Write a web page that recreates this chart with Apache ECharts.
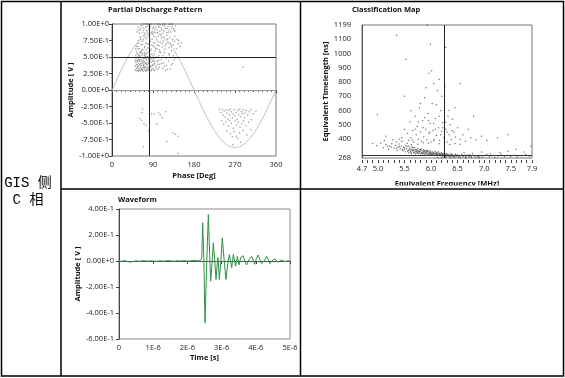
<!DOCTYPE html>
<html><head><meta charset="utf-8">
<script src="https://cdn.jsdelivr.net/npm/echarts@6/dist/echarts.min.js"></script>
<style>html,body{margin:0;padding:0;background:#fff}#c{width:565px;height:378px}</style>
</head><body><div id="c"></div>
<script>
// ---------- Partial Discharge Pattern ----------
const pdTitle = 'Partial Discharge Pattern';
const pdPoints = [
[50,0.31],[51,0.36],[52,0.42],[53,0.29],[53,0.48],[54,0.33],[55,0.39],[55,0.55],[56,0.30],[56,0.44],[57,0.36],[57,0.51],[58,0.28],[58,0.41],[59,0.33],[59,0.47],[60,0.38],[60,0.56],[61,0.30],[61,0.43],[62,0.35],[62,0.50],[63,0.29],[63,0.40],[64,0.46],[64,0.58],[65,0.32],[65,0.37],[66,0.44],[66,0.53],[67,0.30],[67,0.41],[68,0.35],[68,0.49],[69,0.28],[69,0.45],[70,0.33],[70,0.39],[71,0.52],[71,0.57],[72,0.31],[72,0.43],[73,0.36],[73,0.48],[74,0.29],[74,0.40],[75,0.34],[75,0.55],[76,0.46],[77,0.31],[77,0.38],[78,0.50],[79,0.29],[79,0.42],[80,0.35],[80,0.47],[81,0.32],[81,0.58],[82,0.39],[83,0.44],[83,0.30],[84,0.51],[85,0.36],[86,0.42],[87,0.31],[88,0.48],[89,0.38],[90,0.33],[91,0.45],[92,0.55],[93,0.40],[94,0.30],[95,0.49],[97,0.36],[99,0.43],[101,0.31],[103,0.52],[105,0.39],[108,0.46],[111,0.33],[114,0.41],[117,0.30],[120,0.37],[124,0.44],[128,0.32],[133,0.40],
[51,0.45],[52,0.52],[53,0.38],[54,0.58],[55,0.44],[56,0.35],[57,0.46],[58,0.53],[59,0.30],[60,0.45],[61,0.52],[62,0.39],[63,0.57],[64,0.33],[65,0.49],[66,0.31],[67,0.55],[68,0.42],[69,0.37],[70,0.48],[71,0.34],[72,0.54],[73,0.41],[74,0.51],[75,0.29],[76,0.39],[77,0.56],[78,0.33],[79,0.50],[80,0.40],[81,0.45],[82,0.31],[83,0.53],[84,0.35],[85,0.47],[86,0.29],[87,0.54],[88,0.37],[89,0.44],[90,0.52],[91,0.30],[92,0.38],[93,0.48],[94,0.43],[96,0.33],[98,0.50],[100,0.39],[102,0.45],[104,0.34],[106,0.57],[109,0.40],[112,0.52],[115,0.36],[119,0.48],[122,0.31],[126,0.53],[130,0.38],[136,0.45],
[52,0.62],[54,0.70],[56,0.66],[58,0.75],[60,0.63],[62,0.80],[64,0.68],[66,0.74],[68,0.61],[70,0.83],[72,0.66],[74,0.71],[76,0.78],[78,0.64],[80,0.69],[82,0.84],[84,0.73],[86,0.62],[88,0.77],[90,0.67],[92,0.81],[94,0.70],[96,0.63],[98,0.76],[100,0.68],[102,0.82],[104,0.61],[106,0.72],[108,0.79],[110,0.65],[113,0.74],[116,0.62],[119,0.70],[122,0.77],[125,0.64],[128,0.71],[131,0.60],[134,0.68],[137,0.74],[141,0.63],[145,0.70],[149,0.66],[65,0.60],[75,0.61],[85,0.60],[95,0.59],[105,0.58],[115,0.57],[125,0.55],[135,0.52],[140,0.48],
[53,0.66],[57,0.62],[59,0.71],[63,0.77],[67,0.69],[69,0.76],[71,0.64],[73,0.80],[77,0.70],[79,0.82],[81,0.63],[83,0.76],[87,0.68],[89,0.84],[91,0.72],[93,0.65],[97,0.80],[99,0.62],[101,0.73],[103,0.67],[107,0.84],[111,0.70],[114,0.80],[117,0.67],[120,0.83],[123,0.72],[127,0.79],[130,0.67],[133,0.76],[138,0.82],[143,0.77],
[55,0.88],[58,0.95],[61,0.91],[64,0.98],[67,0.87],[70,0.94],[73,1.0],[76,0.90],[79,0.97],[82,0.93],[85,1.0],[88,0.89],[91,0.96],[94,0.92],[97,1.0],[100,0.87],[103,0.95],[106,0.99],[109,0.91],[112,0.86],[115,0.97],[118,1.0],[121,0.93],[124,0.88],[127,0.99],[130,0.94],[133,1.0],[136,0.90],[139,0.97],[68,1.0],[80,1.0],[92,1.0],[104,1.0],[112,1.0],[125,1.0],
[57,0.91],[60,0.86],[63,0.93],[66,0.97],[69,0.90],[72,0.86],[75,0.96],[78,0.88],[81,0.92],[84,0.96],[87,0.86],[90,0.93],[93,0.88],[96,0.95],[99,0.91],[102,0.97],[105,0.89],[108,0.94],[111,0.98],[114,0.90],[117,0.93],[120,0.87],[123,0.96],[126,0.91],[129,0.88],[132,0.97],[135,0.93],[138,0.89],[76,1.0],[86,1.0],[100,1.0],[116,1.0],[130,1.0],
[146,0.75],[152,0.72],[288,0.35],
[67,-0.29],[66,-0.345],[61,-0.43],[65,-0.46],[70,-0.51],[75,-0.53],[87,-0.36],[93,-0.365],[102,-0.345],[106,-0.38],[98,-0.51],[134,-0.65],[139,-0.67],[145,-0.70],[69,-0.86],[145,-0.96],[118,-0.33],[110,-0.42],[120,-0.78],[80,-0.62],
[236,-0.30],[239,-0.34],[242,-0.29],[244,-0.38],[246,-0.32],[248,-0.41],[250,-0.30],[252,-0.35],[254,-0.44],[256,-0.31],[258,-0.38],[260,-0.29],[262,-0.33],[264,-0.42],[266,-0.36],[268,-0.30],[270,-0.39],[272,-0.34],[274,-0.45],[276,-0.31],[278,-0.37],[280,-0.29],[282,-0.40],[284,-0.33],[286,-0.36],[288,-0.30],[290,-0.42],[292,-0.35],[295,-0.31],[298,-0.38],[301,-0.33],[305,-0.30],[310,-0.36],[316,-0.32],
[240,-0.47],[245,-0.52],[250,-0.48],[255,-0.55],[258,-0.46],[262,-0.50],[266,-0.58],[270,-0.47],[273,-0.53],[277,-0.49],[281,-0.56],[285,-0.51],[289,-0.47],[294,-0.54],[300,-0.49],[306,-0.45],
[252,-0.62],[260,-0.66],[268,-0.63],[272,-0.70],[280,-0.65],[288,-0.61],[296,-0.68],[276,-0.73],[264,-0.71],[305,-0.60],[282,-0.79],[265,-0.83]
];
// reference sine (phase, amplitude)
const pdSinePhase = [0,10,20,30,40,50,60,70,80,90,100,110,120,130,140,150,160,170,180,190,200,210,220,230,240,250,260,270,280,290,300,310,320,330,340,350,360];
const pdSineAmp = [0,0.151,0.298,0.435,0.559,0.666,0.753,0.818,0.857,0.87,0.857,0.818,0.753,0.666,0.559,0.435,0.298,0.151,0,-0.151,-0.298,-0.435,-0.559,-0.666,-0.753,-0.818,-0.857,-0.87,-0.857,-0.818,-0.753,-0.666,-0.559,-0.435,-0.298,-0.151,0];
const pdCrossPhase = 81, pdCrossAmp = 0.5;

// ---------- Classification Map ----------
const cmTitle = 'Classification Map';
const cmPoints = [
[4.98,355],[5.05,372],[5.10,340],[5.15,362],[5.20,330],[5.22,351],[5.26,368],[5.30,338],[5.33,355],[5.36,322],[5.38,345],[5.40,366],[5.42,333],[5.44,350],[5.47,318],[5.48,341],[5.50,328],[5.52,356],[5.12,390],[5.28,395],[5.45,385],
[5.52,312],[5.54,333],[5.55,348],[5.57,320],[5.58,305],[5.60,338],[5.61,315],[5.62,326],[5.63,300],[5.64,344],[5.65,318],[5.66,330],[5.67,308],[5.68,322],[5.69,340],[5.70,312],[5.71,298],[5.72,327],[5.73,316],[5.74,305],[5.75,335],[5.76,320],[5.77,310],[5.78,302],[5.79,325],[5.80,315],[5.81,296],[5.82,330],[5.83,308],[5.84,318],[5.85,300],[5.86,324],[5.87,312],[5.88,295],[5.89,305],[5.90,320],[5.91,310],[5.92,298],[5.93,315],[5.94,303],[5.95,292],[5.96,312],[5.97,300],[5.98,318],[5.99,295],[6.00,307],
[5.56,315],[5.59,330],[5.62,307],[5.64,322],[5.66,341],[5.68,303],[5.70,326],[5.72,310],[5.74,318],[5.76,300],[5.78,314],[5.80,327],[5.82,305],[5.84,298],[5.86,310],[5.88,318],[5.90,300],[5.92,313],[5.94,322],[5.96,296],[5.98,306],[6.00,298],[6.02,292],[6.04,303],[6.06,287],[6.08,298],[6.10,305],[6.12,293],[6.14,285],[6.16,296],[6.18,288],[6.20,300],[6.22,291],[6.24,284],[6.26,288],[6.28,282],[6.30,294],[6.33,287],[6.36,281],[6.38,290],[6.41,284],[6.43,280],[6.47,288],[6.49,283],[6.53,281],[6.57,287],[6.61,283],[6.65,280],[6.69,288],[6.72,279],[6.82,282],[6.90,277],[5.35,336],[5.40,349],[5.46,328],[5.50,340],[5.25,345],[5.18,352],[5.58,352],[5.63,360],
[6.01,290],[6.02,312],[6.03,300],[6.04,288],[6.05,305],[6.06,296],[6.07,315],[6.08,285],[6.09,302],[6.10,293],[6.11,308],[6.12,287],[6.13,298],[6.14,310],[6.15,290],[6.16,300],[6.17,283],[6.18,295],[6.19,305],[6.20,288],[6.21,297],[6.22,280],[6.23,292],[6.24,302],[6.25,286],[6.26,295],[6.27,278],[6.28,290],[6.29,300],[6.30,284],[6.32,293],[6.34,279],[6.35,288],[6.37,298],[6.39,282],[6.40,291],[6.42,276],[6.44,286],[6.46,295],[6.48,280],[6.50,289],
[6.52,275],[6.55,284],[6.58,292],[6.60,278],[6.63,287],[6.66,273],[6.70,282],[6.73,290],[6.76,276],[6.80,285],[6.84,272],[6.88,280],[6.92,288],[6.96,275],[7.00,283],[7.05,292],[7.10,278],[7.15,286],[7.20,274],[7.26,282],[7.32,290],[7.38,277],[7.44,285],[7.50,279],[7.56,288],[7.62,276],[7.70,284],[7.78,292],[7.85,281],[6.62,305],[6.78,300],[6.95,310],[7.12,298],[7.30,305],[7.45,315],[7.60,330],[7.75,310],
[6.12,274],[6.20,270],[6.28,272],[6.36,269],[6.45,273],[6.55,270],[6.65,268],[6.75,271],[6.90,269],
[5.45,410],[5.50,470],[5.55,440],[5.58,390],[5.60,520],[5.62,410],[5.65,460],[5.67,380],[5.70,560],[5.72,430],[5.74,490],[5.76,400],[5.78,620],[5.80,450],[5.82,385],[5.84,530],[5.86,415],[5.88,690],[5.90,470],[5.92,395],[5.94,580],[5.96,440],[5.98,510],[6.00,380],[6.02,650],[6.04,460],[6.06,400],[6.08,545],[6.10,425],[6.12,740],[6.14,480],[6.16,390],[6.18,600],[6.20,455],[6.22,515],[6.24,410],[6.26,770],[6.28,470],[6.30,380],[6.32,560],[6.34,430],[6.36,500],[6.38,395],[6.40,540],[6.43,450],[6.46,415],[6.50,480],[6.55,400],[6.60,430],[6.65,385],[6.70,470],[6.75,410],[6.80,560],[6.85,395],[6.95,420],[7.05,390],[7.25,410],[7.45,430],[7.88,350],
[5.70,470],[5.85,480],[5.95,530],[6.05,510],[6.15,560],[6.25,600],[6.30,450],[6.22,480],[6.10,640],[5.98,450],[5.88,550],[6.18,430],[6.28,520],[6.34,600],[6.08,470],[5.76,520],[6.40,460],
[5.35,380],[5.40,400],[5.55,370],[5.75,365],[5.95,372],[6.15,368],[6.35,362],[6.55,365],[5.65,395],[5.85,375],[6.05,388],[6.25,377],[6.45,370],
[5.35,1127],[5.53,960],[5.99,1065],[6.27,1042],[6.01,878],[5.96,860],[4.99,570],[5.93,1199],[5.50,700],[6.05,790],[6.15,820],[5.80,650],[6.55,790],[6.20,700],[5.90,760],[6.45,620],[5.62,600],[5.15,420],[4.90,370]
];
const cmXLabels = [4.7, 5.0, 5.5, 6.0, 6.5, 7.0, 7.5, 7.9];
const cmYLabels = [268, 400, 500, 600, 700, 800, 900, 1000, 1100, 1199];
const cmCrossFreq = 6.25, cmCrossTl = 290;

// ---------- Waveform ----------
const wfTitle = 'Waveform';
const waveform = [
[0,0.002],[0.08,-0.003],[0.16,0.004],[0.25,-0.005],[0.33,-0.008],[0.42,-0.004],[0.5,0.002],[0.58,-0.003],[0.67,0.001],[0.75,0.003],[0.84,-0.002],[0.92,0.002],[1.0,0.0],[1.1,-0.003],[1.2,0.002],[1.3,-0.002],[1.4,0.003],[1.5,0.001],[1.6,-0.002],[1.7,0.002],[1.8,0.0],[1.9,0.003],[2.0,-0.001],[2.1,0.002],[2.2,0.004],[2.3,0.001],[2.38,0.003],
[2.42,0.02],[2.447,0.294],[2.48,0.02],[2.515,-0.475],[2.56,-0.05],[2.612,0.358],[2.65,0.05],[2.68,-0.155],[2.72,-0.02],[2.758,0.14],[2.80,0.0],[2.836,-0.142],[2.87,-0.03],[2.895,0.025],[2.934,-0.142],[2.98,0.0],[3.02,0.178],[3.07,0.02],[3.129,-0.142],[3.18,-0.02],[3.226,0.05],[3.294,-0.052],[3.343,0.05],[3.41,-0.04],[3.46,0.035],[3.51,-0.03],[3.56,0.028],[3.63,0.04],[3.68,0.0],[3.73,-0.03],[3.80,0.01],[3.88,0.035],[3.93,0.0],[3.97,-0.025],[4.02,0.02],[4.07,0.046],[4.12,0.01],[4.17,-0.02],[4.24,0.0],[4.32,0.035],[4.37,0.01],[4.41,-0.02],[4.48,0.005],[4.56,0.015],[4.61,0.0],[4.66,-0.01],[4.72,0.005],[4.79,0.005],[4.85,-0.005],[4.90,0.0],[4.95,0.003],[5.0,0.0]
];

// ---------- row header ----------
const rowHeader = ['GIS 侧', 'C 相'];

const F = "'Open Sans','Liberation Sans',sans-serif";
const lab = {fontFamily: F, fontSize: 7.5, color: '#222'};
const nm = {fontFamily: F, fontSize: 7.5, fontWeight: 'bold', color: '#111'};
const expFmt = v => Number(v).toExponential(2).toUpperCase();

const cmXTicks = [];
for (let i = 47; i <= 79; i++) cmXTicks.push(i / 10);

const chart = echarts.init(document.getElementById('c'), null, {renderer: 'canvas'});
chart.setOption({
  animation: false,
  backgroundColor: '#fff',
  title: [
    {text: pdTitle, left: 108, top: 6, padding: 0, textStyle: {fontFamily: F, fontSize: 7.5, fontWeight: 'bold', color: '#111'}},
    {text: cmTitle, left: 352, top: 6, padding: 0, textStyle: {fontFamily: F, fontSize: 7.5, fontWeight: 'bold', color: '#111'}},
    {text: wfTitle, left: 118, top: 196, padding: 0, textStyle: {fontFamily: F, fontSize: 7.5, fontWeight: 'bold', color: '#111'}}
  ],
  grid: [
    {left: 112, top: 24, width: 164, height: 132, show: true, borderColor: '#777', borderWidth: 1, backgroundColor: 'transparent'},
    {left: 362, top: 25, width: 170, height: 133, show: true, borderColor: '#777', borderWidth: 1, backgroundColor: 'transparent'},
    {left: 119, top: 209, width: 171, height: 130, show: true, borderColor: '#888', borderWidth: 1, backgroundColor: 'transparent'}
  ],
  xAxis: [
    {gridIndex: 0, type: 'value', min: 0, max: 360, interval: 90, offset: 1,
     name: 'Phase [Deg]', nameLocation: 'middle', nameGap: 15, nameTextStyle: nm,
     axisLine: {show: false}, splitLine: {show: false},
     axisTick: {show: true, length: 3, lineStyle: {color: '#444'}},
     minorTick: {show: true, splitNumber: 9, length: 2, lineStyle: {color: '#666'}},
     axisLabel: Object.assign({margin: 4}, lab)},
    {gridIndex: 1, type: 'value', min: 4.7, max: 7.9, offset: 2,
     name: 'Equivalent Frequency [MHz]', nameLocation: 'middle', nameGap: 20, nameTextStyle: nm,
     axisLine: {show: false}, splitLine: {show: false},
     axisTick: {show: true, length: 3, customValues: cmXTicks, lineStyle: {color: '#444'}},
     axisLabel: Object.assign({margin: 5, customValues: cmXLabels, formatter: v => Number(v).toFixed(1)}, lab)},
    {gridIndex: 2, type: 'value', min: 0, max: 5, interval: 1,
     name: 'Time [s]', nameLocation: 'middle', nameGap: 15, nameTextStyle: nm,
     axisLine: {show: true, lineStyle: {color: '#555'}}, splitLine: {show: false},
     axisTick: {show: true, length: 3, lineStyle: {color: '#444'}},
     axisLabel: Object.assign({margin: 5, formatter: v => v === 0 ? '0' : v + 'E-6'}, lab)}
  ],
  yAxis: [
    {gridIndex: 0, type: 'value', min: -1, max: 1, interval: 0.25,
     name: 'Amplitude [ V ]', nameLocation: 'middle', nameGap: 37, nameRotate: 90, nameTextStyle: nm,
     axisLine: {show: true, lineStyle: {color: '#333'}}, splitLine: {show: false},
     axisTick: {show: true, length: 3, lineStyle: {color: '#444'}},
     axisLabel: Object.assign({margin: 3, formatter: expFmt}, lab)},
    {gridIndex: 1, type: 'value', min: 268, max: 1199,
     name: 'Equivalent Timelength [ns]', nameLocation: 'middle', nameGap: 24, nameRotate: 90, nameTextStyle: nm,
     axisLine: {show: true, lineStyle: {color: '#555'}}, splitLine: {show: false},
     axisTick: {show: false, customValues: cmYLabels},
     axisLabel: Object.assign({margin: 11, customValues: cmYLabels, formatter: v => String(Math.round(v))}, lab)},
    {gridIndex: 2, type: 'value', min: -0.6, max: 0.4, interval: 0.2,
     name: 'Amplitude [ V ]', nameLocation: 'middle', nameGap: 35, nameRotate: 90, nameTextStyle: nm,
     axisLine: {show: true, lineStyle: {color: '#444'}}, splitLine: {show: false},
     axisTick: {show: true, length: 3, lineStyle: {color: '#444'}},
     axisLabel: Object.assign({margin: 5, formatter: expFmt}, lab)}
  ],
  series: [
    {type: 'scatter', xAxisIndex: 0, yAxisIndex: 0, data: pdPoints, symbol: 'circle', symbolSize: 1.5,
     itemStyle: {color: 'rgba(60,60,60,0.65)'}, silent: true},
    {type: 'line', xAxisIndex: 0, yAxisIndex: 0, data: pdSinePhase.map((p, i) => [p, pdSineAmp[i]]),
     smooth: true, showSymbol: false, lineStyle: {color: '#b0b0b0', width: 0.8}, silent: true,
     markLine: {silent: true, symbol: 'none', label: {show: false}, animation: false,
       data: [
         {yAxis: 0, lineStyle: {color: '#999', width: 1, type: 'solid'}},
         {xAxis: pdCrossPhase, lineStyle: {color: '#222', width: 1, type: 'solid'}},
         {yAxis: pdCrossAmp, lineStyle: {color: '#222', width: 1, type: 'solid'}}
       ]}},
    {type: 'scatter', xAxisIndex: 1, yAxisIndex: 1, data: cmPoints, symbol: 'circle', symbolSize: 1.5,
     itemStyle: {color: 'rgba(30,30,30,0.75)'}, silent: true,
     markLine: {silent: true, symbol: 'none', label: {show: false}, animation: false,
       data: [
         {xAxis: cmCrossFreq, lineStyle: {color: '#222', width: 1, type: 'solid'}},
         {yAxis: cmCrossTl, lineStyle: {color: '#333', width: 1, type: 'solid'}}
       ]}},
    {type: 'line', xAxisIndex: 2, yAxisIndex: 2, data: waveform, showSymbol: false, silent: true,
     lineStyle: {color: '#2f8f48', width: 1}}
  ],
  graphic: [
    {type: 'rect', z: 100, shape: {x: 301, y: 185.5, width: 262, height: 3.5}, style: {fill: '#fff'}},
    {type: 'rect', z: 101, shape: {x: 1.5, y: 1.5, width: 562, height: 374.5}, style: {fill: 'transparent', stroke: '#000', lineWidth: 1.5}},
    {type: 'line', z: 101, shape: {x1: 61, y1: 1, x2: 61, y2: 376}, style: {stroke: '#000', lineWidth: 1.5}},
    {type: 'line', z: 101, shape: {x1: 61, y1: 189, x2: 563, y2: 189}, style: {stroke: '#000', lineWidth: 1.5}},
    {type: 'line', z: 101, shape: {x1: 300.5, y1: 1, x2: 300.5, y2: 376}, style: {stroke: '#000', lineWidth: 1.5}},
    {type: 'text', z: 101, style: {text: rowHeader[0], x: 28, y: 183, align: 'center', verticalAlign: 'middle', fontSize: 14, fontFamily: "'Liberation Mono','Noto Sans CJK SC',monospace", fill: '#000'}},
    {type: 'text', z: 101, style: {text: rowHeader[1], x: 28, y: 200, align: 'center', verticalAlign: 'middle', fontSize: 14, fontFamily: "'Liberation Mono','Noto Sans CJK SC',monospace", fill: '#000'}}
  ]
});
</script>
</body></html>
